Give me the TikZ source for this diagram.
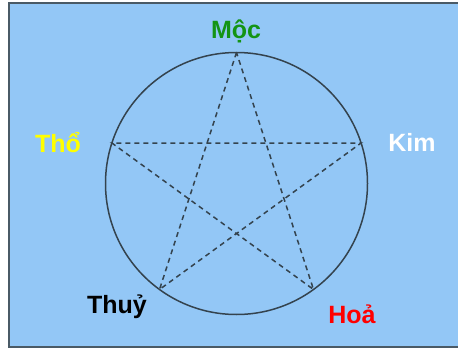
\documentclass[tikz,border=0pt]{standalone}
\usepackage{fontspec}
\setmainfont{Liberation Sans}
\usepackage{tikz}
\usepackage{xcolor}
\usetikzlibrary{calc}
\definecolor{skyblue}{HTML}{93C7F6}
\definecolor{framegray}{HTML}{4A5A66}
\definecolor{inkgray}{HTML}{34434E}
\definecolor{mocgreen}{HTML}{149414}
\definecolor{thoyellow}{HTML}{FFFF00}
\definecolor{hoared}{HTML}{FF0000}

\begin{document}
\begin{tikzpicture}[x=1pt, y=1pt,
            elem/.style={anchor=base, inner sep=0pt, font=\fontsize{25}{29}\selectfont\bfseries},
            ring/.style={draw=inkgray, line width=1.5pt},
            starline/.style={draw=inkgray, line width=1.5pt, dash pattern=on 5pt off 4pt}]
            \useasboundingbox (0,0) rectangle (458,349);
            \fill[white] (0,0) rectangle (458,349);
            \filldraw[fill=skyblue, draw=framegray, line width=1.5pt] (9,2) rectangle (462,346);
            % circle and the five points
            \coordinate (c) at (236.5,165.5);
            \draw[ring] (c) circle[radius=131];
            \coordinate (pmoc) at ($(c)+(90:131)$);
            \coordinate (ptho) at ($(c)+(162:131)$);
            \coordinate (pthuy) at ($(c)+(234:131)$);
            \coordinate (phoa) at ($(c)+(306:131)$);
            \coordinate (pkim) at ($(c)+(18:131)$);
            \draw[starline] (pmoc)--(pthuy)--(pkim)--(ptho)--(phoa)--cycle;
            % labels
            \node[elem, text=mocgreen] (moc) at (236,310) {Mộc};
            \node[elem, text=thoyellow] (tho) at (58,197) {Thổ};
            \node[elem, text=white] (kim) at (412,198) {Kim};
            \node[elem, text=black] (thuy) at (117,36) {Thuỷ};
            \node[elem, text=hoared] (hoa) at (352,26) {Hoả};
        \end{tikzpicture}
\end{document}
